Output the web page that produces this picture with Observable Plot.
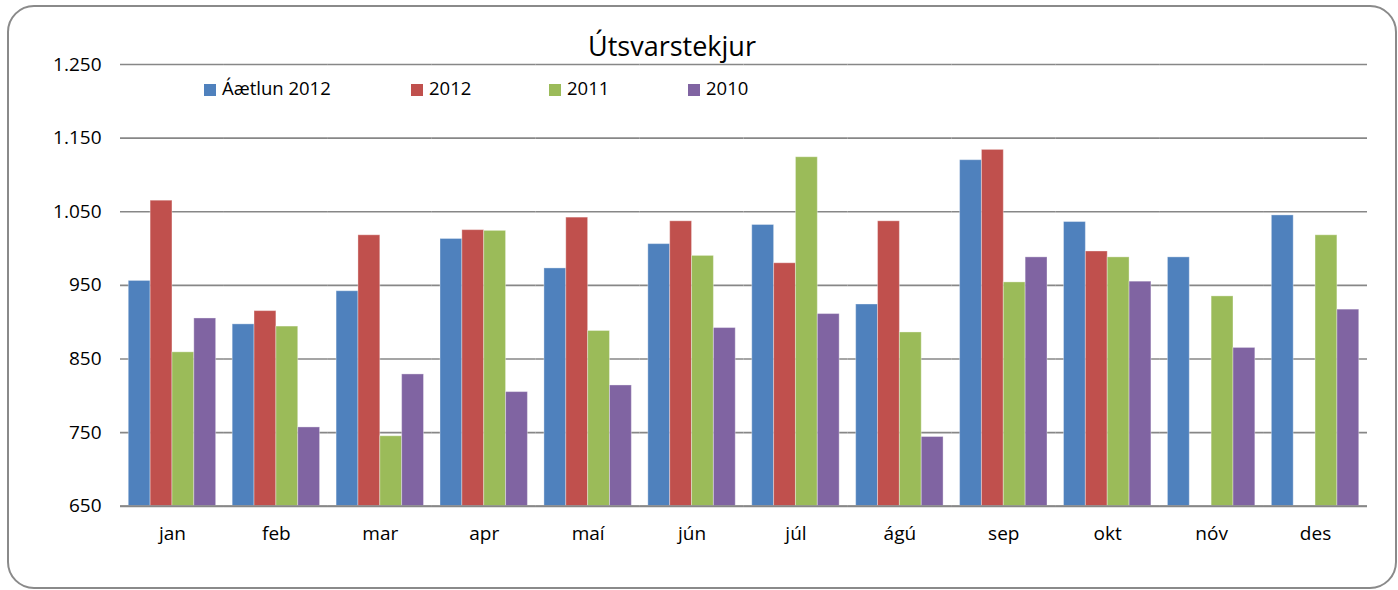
<!DOCTYPE html>
<html>
<head>
<meta charset="utf-8">
<script src="https://cdn.jsdelivr.net/npm/d3@7"></script>
<script src="https://cdn.jsdelivr.net/npm/@observablehq/plot@0.6"></script>
<style>
  html, body { margin: 0; padding: 0; background: #fff; }
  #wrap { position: relative; width: 1398px; height: 590px; overflow: hidden; font-family: "Open Sans", sans-serif; }
  #frame { position: absolute; left: 7px; top: 5px; width: 1386px; height: 580px; border: 2.5px solid #8a8a8a; border-radius: 27px; }
  #chart { position: absolute; left: 0; top: 0; }
  #title { position: absolute; left: 0; width: 1344px; top: 28px; text-align: center; font-size: 27px; color: #000; line-height: 36px; }
  .leg { position: absolute; top: 76px; font-size: 18.5px; line-height: 24px; color: #000; white-space: nowrap; }
  .leg span.sw { display: inline-block; width: 12px; height: 12px; margin-right: 6px; vertical-align: -0.5px; }
</style>
</head>
<body>
<div id="wrap">
  <div id="frame"></div>
  <div id="chart"></div>
  <div id="title">Útsvarstekjur</div>
  <div id="legend"></div>
</div>
<script>
const months = ["jan","feb","mar","apr","maí","jún","júl","ágú","sep","okt","nóv","des"];
const series = ["Áætlun 2012","2012","2011","2010"];
const colors = ["#4F81BD","#C0504D","#9BBB59","#8064A2"];
const aaetlun2012 = [956, 897, 942, 1013, 973, 1006, 1032, 924, 1120, 1036, 988, 1045];
const v2012 = [1065, 915, 1018, 1025, 1042, 1037, 980, 1037, 1134, 996, null, null];
const v2011 = [859, 894, 745, 1024, 888, 990, 1124, 886, 954, 988, 935, 1018];
const v2010 = [905, 757, 829, 805, 814, 892, 911, 744, 988, 955, 865, 917];
const yTicks = [650, 750, 850, 950, 1050, 1150, 1250];
const yMin = 650, yMax = 1250;

const valuesBySeries = [aaetlun2012, v2012, v2011, v2010];
const data = [];
months.forEach((m, i) => {
  series.forEach((s, j) => {
    const v = valuesBySeries[j][i];
    if (v != null) data.push({month: m, series: s, value: v});
  });
});

const fmt = d3.formatLocale({decimal: ",", thousands: ".", grouping: [3], currency: ["", ""]}).format(",d");

const chart = Plot.plot({
  width: 1398,
  height: 590,
  marginLeft: 120,
  marginRight: 31,
  marginTop: 64,
  marginBottom: 84.3,
  style: {fontFamily: "Open Sans, sans-serif", fontSize: "19px", color: "#000", background: "transparent", overflow: "visible"},
  fx: {domain: months, paddingInner: 0, paddingOuter: 0, round: false, axis: "bottom", tickSize: 0, tickPadding: 20, label: null},
  x: {domain: series, paddingInner: 0, paddingOuter: 0.378, round: false, axis: null},
  y: {domain: [yMin, yMax], ticks: yTicks, tickFormat: fmt, tickSize: 0, tickPadding: 19, label: null},
  color: {domain: series, range: colors},
  marks: [
    Plot.ruleY(yTicks, {stroke: "#878787", strokeWidth: 1.6}),
    Plot.barY(data, {fx: "month", x: "series", y1: yMin, y2: "value", fill: "series", stroke: "#ffffff", strokeOpacity: 0.35, strokeWidth: 1}),
    Plot.ruleY([yMin], {stroke: "#878787", strokeWidth: 2})
  ]
});
document.getElementById("chart").appendChild(chart);

const legendLefts = [204, 411, 549, 688];
const legend = document.getElementById("legend");
series.forEach((s, i) => {
  const d = document.createElement("div");
  d.className = "leg";
  d.style.left = legendLefts[i] + "px";
  const sw = document.createElement("span");
  sw.className = "sw";
  sw.style.background = colors[i];
  d.appendChild(sw);
  d.appendChild(document.createTextNode(s));
  legend.appendChild(d);
});
</script>
</body>
</html>
